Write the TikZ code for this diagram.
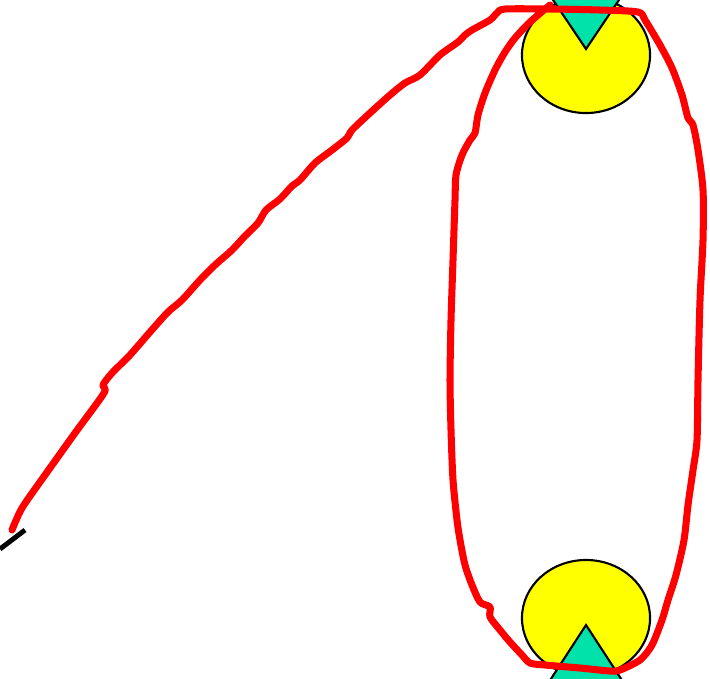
\documentclass[tikz,border=0pt]{standalone}
\usepackage{tikz}
\usetikzlibrary{shapes.geometric}
\definecolor{bulbyellow}{RGB}{255,255,0}
\definecolor{conegreen}{RGB}{0,226,170}
\definecolor{inkred}{RGB}{255,0,0}
\tikzset{
  bulb/.style={ellipse, draw=black, fill=bulbyellow, line width=0.6pt,
    minimum width=1.28cm, minimum height=1.16cm, inner sep=0pt},
  cone/.style={draw=black, fill=conegreen, line width=0.6pt, line join=miter},
  scribble/.style={draw=inkred, line width=2pt, line cap=round, line join=round},
  stub/.style={draw=black, line width=1.4pt}
}
\begin{document}
\begin{tikzpicture}[x=0.01cm, y=-0.01cm]
    \useasboundingbox (0,0) rectangle (710,678);
    \clip (0,0) rectangle (710,678);
    % Bulbs
    \node[bulb] (topbulb) at (586,55) {};
    \node[bulb] (botbulb) at (586,618) {};
    % Cones
    \draw[cone] (586,49) -- (545,-12) -- (627,-12) -- cycle;
    \draw[cone] (586,625) -- (545,688) -- (627,688) -- cycle;
    % Stub
    \draw[stub] (0,549) -- (25,530);
    % Red scribble
    \draw[scribble] plot[smooth, tension=0.45] coordinates {
      (12,530) (22,508) (45,475) (75,433) (104,393) (103,385) (112,373)
      (130,355) (150,332) (168,312) (182,300) (200,280) (215,265) (232,250)
      (245,236) (258,223) (266,210) (280,199) (292,186) (300,180) (315,163)
      (332,150) (347,138) (352,130) (370,113) (390,95) (405,83) (420,75)
      (440,55) (458,42) (465,35) (472,30) (490,20) (497,13) (505,9)
      (550,9) (600,10) (638,12) (645,20) (660,45) (672,68) (682,95)
      (688,118) (693,125) (698,150) (703,190) (703,240) (700,300) (698,380)
      (697,440) (693,470) (688,505) (684,540) (676,575) (668,600) (662,620)
      (652,645) (640,660) (620,670) (610,671) (580,668) (545,665) (530,663)
      (522,655) (510,642) (500,630) (490,617) (490,607) (480,602) (472,585)
      (465,565) (460,540) (457,520) (453,480) (451,430) (450,380) (451,320)
      (453,260) (455,200) (456,175) (462,155) (470,140) (475,133) (478,115)
      (485,93) (495,70) (505,52) (515,38) (530,22) (550,5)};
\end{tikzpicture}
\end{document}
